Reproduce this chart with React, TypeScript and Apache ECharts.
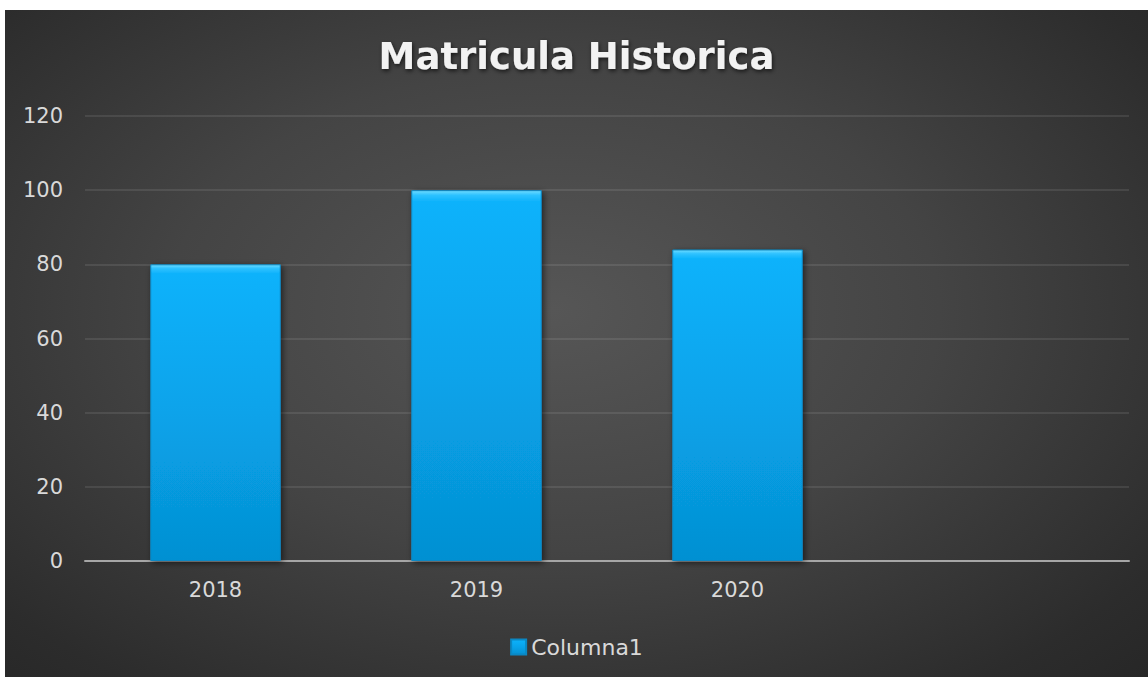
import React, { useEffect, useRef } from "react";
import * as echarts from "echarts";

const titleText = "Matricula Historica";
const categories = ["2018", "2019", "2020", ""];
const seriesName = "Columna1";
const values: (number | null)[] = [80, 100, 84, null];
const yTicks = { min: 0, max: 120, interval: 20 };

export default function App() {
  const ref = useRef<HTMLDivElement>(null);
  useEffect(() => {
    if (!ref.current) return;
    const chart = echarts.init(ref.current, null, { renderer: "svg" });
    const font = "DejaVu Sans";
    const barGradient = new echarts.graphic.LinearGradient(0, 0, 0, 1, [
      { offset: 0, color: "#6fdcff" },
      { offset: 0.012, color: "#2ec2ff" },
      { offset: 0.03, color: "#0cb2fb" },
      { offset: 0.5, color: "#08a3ea" },
      { offset: 1, color: "#0590d2" },
    ]);
    chart.setOption({
      animation: false,
      backgroundColor: "transparent",
      title: {
        text: titleText,
        left: "center",
        top: 23,
        textStyle: {
          fontFamily: font,
          fontSize: 37,
          fontWeight: "bold",
          color: "#f2f2f2",
          textShadowColor: "rgba(0,0,0,0.65)",
          textShadowBlur: 4,
          textShadowOffsetX: 1,
          textShadowOffsetY: 2,
        },
      },
      legend: {
        data: [seriesName],
        bottom: 14,
        left: "center",
        icon: "rect",
        itemWidth: 15,
        itemHeight: 15,
        itemGap: 6,
        textStyle: { fontFamily: font, fontSize: 22, color: "#d9d9d9" },
      },
      grid: { left: 80, right: 19, top: 106, bottom: 116, containLabel: false },
      xAxis: {
        type: "category",
        data: categories,
        axisLine: { show: true, lineStyle: { color: "#a6a6a6", width: 2 } },
        axisTick: { show: false },
        axisLabel: {
          fontFamily: font,
          fontSize: 21,
          color: "#d9d9d9",
          margin: 18,
        },
      },
      yAxis: {
        type: "value",
        min: yTicks.min,
        max: yTicks.max,
        interval: yTicks.interval,
        axisLine: { show: false },
        axisTick: { show: false },
        axisLabel: {
          fontFamily: font,
          fontSize: 21,
          color: "#d9d9d9",
          margin: 22,
        },
        splitLine: { lineStyle: { color: "rgba(255,255,255,0.09)", width: 2 } },
      },
      series: [
        {
          name: seriesName,
          type: "bar",
          data: values,
          barWidth: "50%",
          itemStyle: {
            color: barGradient,
            borderColor: "#0a88c4",
            borderWidth: 1,
            shadowColor: "rgba(0,0,0,0.55)",
            shadowBlur: 6,
            shadowOffsetX: 2,
            shadowOffsetY: 2,
          },
        },
      ],
    });
    return () => chart.dispose();
  }, []);
  return (
    <div
      ref={ref}
      style={{
        position: "absolute",
        left: 5,
        top: 10,
        width: 1143,
        height: 667,
        background:
          "radial-gradient(ellipse 75% 80% at 48% 45%, #565656 0%, #444444 45%, #2c2c2c 85%, #262626 100%)",
      }}
    />
  );
}
